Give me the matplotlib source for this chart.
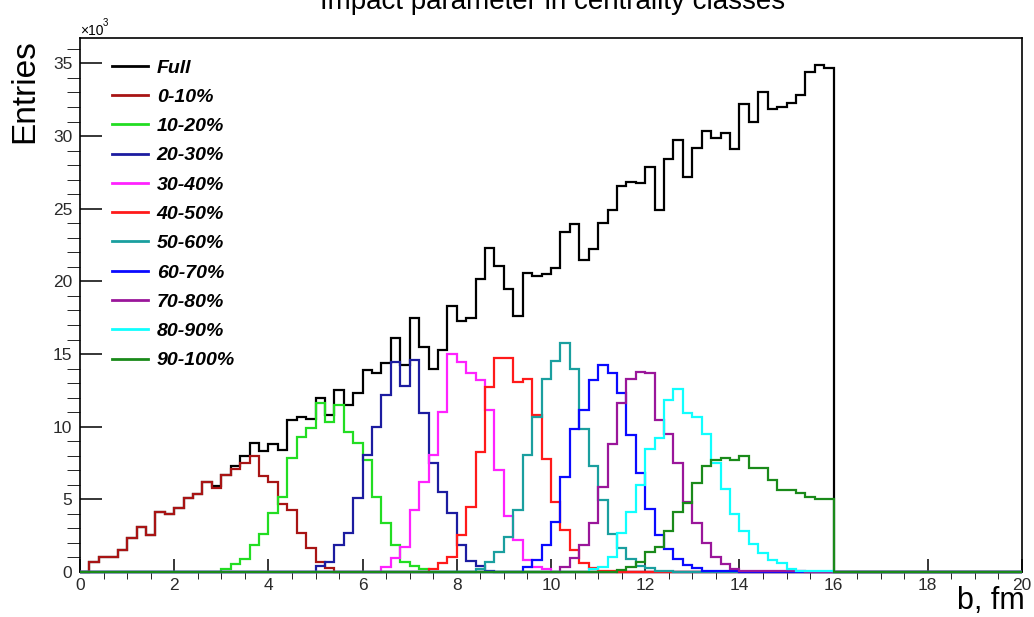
import numpy as np
import matplotlib
matplotlib.use("Agg")
import matplotlib.pyplot as plt
from matplotlib.ticker import MultipleLocator

plt.rcParams['font.family'] = ['Liberation Sans', 'DejaVu Sans']

# impact parameter histogram: 100 bins of 0.2 fm over 0..20 fm, counts in units of 10^3
edges = np.linspace(0, 20, 101)

# each class: (first bin index, counts from there on)
full = (0, [0.0, 0.71, 1.05, 1.05, 1.51, 2.36, 3.07, 2.55, 4.15, 4.0,
            4.43, 5.07, 5.35, 6.17, 5.9, 6.7, 7.3, 8.0, 8.9, 8.35,
            8.81, 8.4, 10.46, 10.69, 10.55, 11.95, 10.8, 12.53, 11.5, 12.3,
            13.9, 13.67, 14.36, 16.08, 14.24, 17.46, 15.5, 14.0, 15.28, 18.3,
            17.25, 17.5, 20.14, 22.28, 21.07, 19.5, 17.6, 20.6, 20.4, 20.5,
            20.9, 23.4, 23.95, 21.47, 22.2, 24.0, 24.9, 26.57, 26.86, 26.75,
            27.9, 24.9, 28.4, 29.73, 27.2, 29.2, 30.35, 29.9, 30.2, 29.1,
            32.2, 31.0, 33.0, 31.87, 32.03, 32.3, 32.8, 34.4, 34.9, 34.7])
c0_10 = (0, [0.0, 0.71, 1.05, 1.05, 1.51, 2.36, 3.07, 2.55, 4.15, 4.0,
             4.43, 5.07, 5.35, 6.17, 5.76, 6.68, 7.09, 7.48, 7.98, 6.6,
             6.2, 4.68, 4.27, 2.66, 1.63, 0.71, 0.25])
c10_20 = (15, [0.18, 0.53, 0.87, 1.86, 2.6, 4.04, 5.18, 7.82, 9.31, 9.88,
               11.6, 10.35, 11.5, 9.66, 8.86, 7.71, 5.18, 3.35, 1.86, 0.71,
               0.41, 0.2])
c20_30 = (25, [0.42, 0.68, 1.86, 2.66, 5.07, 8.05, 10.0, 12.18, 14.47, 12.8,
               14.59, 10.97, 7.48, 5.53, 4.04, 1.86, 0.77, 0.42, 0.1])
c30_40 = (32, [0.37, 0.94, 1.74, 4.27, 6.22, 8.05, 11.03, 15.0, 14.48, 13.68,
               13.23, 11.14, 7.05, 3.83, 2.2, 0.83, 0.37, 0.2])
c40_50 = (37, [0.2, 0.6, 1.06, 2.55, 4.5, 8.28, 12.75, 14.71, 14.71, 13.1,
               13.3, 10.8, 7.8, 4.84, 2.89, 1.51, 0.6, 0.25, 0.05, 0.05])
c50_60 = (42, [0.2, 0.69, 1.38, 2.43, 4.27, 8.05, 10.69, 13.3, 14.54, 15.73,
               13.95, 9.82, 7.29, 4.95, 2.61, 1.63, 0.87, 0.41, 0.25, 0.1,
               0.05])
c60_70 = (47, [0.37, 0.83, 1.86, 3.44, 6.55, 9.82, 11.15, 13.2, 14.25, 13.72,
               12.34, 9.43, 6.79, 4.35, 2.55, 1.56, 0.87, 0.48, 0.25, 0.1,
               0.1, 0.05, 0.05])
c70_80 = (51, [0.32, 0.94, 1.86, 3.4, 5.87, 8.81, 11.65, 13.26, 13.79, 13.68,
               10.46, 9.5, 7.48, 4.84, 3.35, 2.02, 1.06, 0.55, 0.18, 0.05,
               0.05, 0.05, 0.05, 0.05, 0.05, 0.05])
c80_90 = (54, [0.2, 0.37, 1.06, 2.66, 4.15, 5.98, 8.45, 9.2, 11.84, 12.57,
               10.97, 10.64, 9.5, 7.52, 5.7, 4.0, 2.8, 1.9, 1.28, 0.83,
               0.6, 0.2, 0.1, 0.05, 0.05, 0.05])
c90_100 = (57, [0.14, 0.37, 0.71, 1.4, 1.74, 2.84, 4.15, 4.77, 6.15, 7.29,
                7.71, 7.82, 7.71, 7.96, 7.15, 7.13, 6.33, 5.64, 5.64, 5.42,
                5.18, 5.0, 5.0])

labels = ['Full', '0-10%', '10-20%', '20-30%', '30-40%', '40-50%',
          '50-60%', '60-70%', '70-80%', '80-90%', '90-100%']
colors = ['black', '#a81414', '#22dd22', '#1c1ca0', '#ff22ff', '#ff1a1a',
          '#1a9f9f', '#0a0aff', '#9a169a', '#10ffff', '#1a8a1a']
hists = [full, c0_10, c10_20, c20_30, c30_40, c40_50,
         c50_60, c60_70, c70_80, c80_90, c90_100]


def to_bins(h):
    start, vals = h
    out = np.zeros(len(edges) - 1)
    out[start:start + len(vals)] = vals
    return out


W, H = 1034, 617
fig = plt.figure(figsize=(W / 100, H / 100), dpi=100)
ax = fig.add_axes([80 / W, 1 - 572 / H, 942 / W, 534 / H])

for i, (h, lab, col) in enumerate(zip(hists, labels, colors)):
    ax.stairs(to_bins(h), edges, color=col, lw=1.6, label=lab,
              zorder=3 + i, clip_on=False)

ax.set_xlim(0, 20)
ax.set_ylim(0, 36.75)

ax.xaxis.set_major_locator(MultipleLocator(2))
ax.xaxis.set_minor_locator(MultipleLocator(0.5))
ax.yaxis.set_major_locator(MultipleLocator(5))
ax.yaxis.set_minor_locator(MultipleLocator(1))
ax.tick_params(direction='in', width=1.1, labelsize=12.5, labelcolor='#2a2a2a')
ax.tick_params(axis='x', which='major', length=9.5, pad=4.5)
ax.tick_params(axis='x', which='minor', length=5)
ax.tick_params(axis='y', which='major', length=15.5, pad=5.5)
ax.tick_params(axis='y', which='minor', length=9.5)
for s in ax.spines.values():
    s.set_linewidth(1.2)

# ROOT style: axis titles pushed to the axis ends
fig.text(1025 / W, 1 - 609 / H, 'b, fm', fontsize=22, ha='right', va='baseline')
fig.text(25 / W, 1 - 39 / H, 'Entries', fontsize=24, rotation=90,
         ha='center', va='top')
fig.text(553 / W, 1 - 9 / H, 'Impact parameter in centrality classes',
         fontsize=20, ha='center', va='baseline')
fig.text(80 / W, 1 - 35 / H, '\u00d710', fontsize=10, ha='left', va='baseline')
fig.text(103 / W, 1 - 26 / H, '3', fontsize=7, ha='left', va='baseline')

leg = ax.legend(loc='upper left', bbox_to_anchor=(112 / W, 1 - 59 / H),
                bbox_transform=fig.transFigure, frameon=False,
                prop={'weight': 'bold', 'style': 'italic', 'size': 14},
                handlelength=1.85, handletextpad=0.45, labelspacing=0.6,
                borderpad=0, borderaxespad=0)
for ln in leg.get_lines():
    ln.set_linewidth(2)

fig.savefig('out.png', dpi=100)
